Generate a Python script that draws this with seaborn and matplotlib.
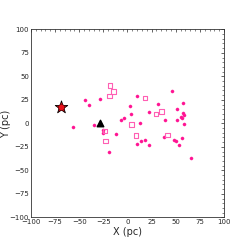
import numpy as np
import pandas as pd
import seaborn as sns
import matplotlib.pyplot as plt
from matplotlib.ticker import MultipleLocator

# small filled members
dot_x = [-43.7, -39.9, -28.8, -56.8, -34.7, -25.8, -25.5, -11.9, -18.8, 9.5, 2.6, 4.0,
         -3.6, -6.7, 12.6, 14.3, 18.5, 10.2, 21.9, 22.3, 32.0, 39.2, 37.5, 46.5, 51.0,
         57.9, 55.1, 56.1, 51.0, 57.2, 58.2, 58.5, 47.8, 50.6, 53.0, 56.1, 65.8]
dot_y = [24.5, 19.1, 25.5, -3.9, -1.4, -7.5, -10.0, -11.0, -30.1, 29.4, 18.8, 9.9,
         6.0, 3.5, 0.7, -18.8, -17.4, -22.0, -22.7, 12.4, 20.9, 3.9, -14.2, 34.0, 15.2,
         21.3, 7.1, 6.0, 3.2, 10.6, 9.2, -1.1, -18.1, -19.1, -23.0, -15.6, -36.9]

# open squares
sq_x = [-18.1, -14.3, -18.8, 4.3, 18.1, 29.5, 35.1, 8.8, 41.3, -23.3, -22.9]
sq_y = [40.4, 34.0, 29.1, -1.4, 26.9, 9.9, 12.8, -12.8, -12.1, -7.8, -18.8]

star_x, star_y = [-69.3], [17.7]
tri_x, tri_y = [-28.2], [0.5]

dots = pd.DataFrame({'x': dot_x, 'y': dot_y})
squares = pd.DataFrame({'x': sq_x, 'y': sq_y})

sns.set_style('white')
plt.rcParams['font.family'] = ['DejaVu Sans']

fig = plt.figure(figsize=(2.49, 2.49), dpi=100)
ax = fig.add_axes([0.1245, 0.127, 0.775, 0.755])

sns.scatterplot(data=dots, x='x', y='y', ax=ax, color='#ff1493', s=5,
                edgecolor='#ff1493', linewidth=0.3, zorder=3)
sns.scatterplot(data=squares, x='x', y='y', ax=ax, marker='s', s=10,
                facecolor='none', edgecolor='#ff5fb4', linewidth=0.8, zorder=3)
ax.scatter(star_x, star_y, marker='*', s=90, color='#e8101a', edgecolor='black',
           linewidth=0.6, zorder=4)
ax.scatter(star_x, star_y, marker='o', s=20, color='#e8101a', edgecolor='#5a0000',
           linewidth=0.4, zorder=5)
ax.scatter(tri_x, tri_y, marker='^', s=22, color='black', zorder=4)

ax.set_xlim(-100, 100)
ax.set_ylim(-100, 100)
ax.xaxis.set_major_locator(MultipleLocator(25))
ax.yaxis.set_major_locator(MultipleLocator(25))
ax.xaxis.set_minor_locator(MultipleLocator(5))
ax.yaxis.set_minor_locator(MultipleLocator(5))
ax.tick_params(which='both', direction='in', top=True, right=True, labelsize=5, pad=1.5)
ax.tick_params(which='major', length=2.5, width=0.5)
ax.tick_params(which='minor', length=1.2, width=0.4)
for s in ax.spines.values():
    s.set_linewidth(0.6)
    s.set_color('#333333')

ax.set_xlabel('X (pc)', fontsize=7, labelpad=1)
ax.set_ylabel('Y (pc)', fontsize=7)
ax.yaxis.set_label_coords(-0.105, 0.5)

plt.savefig('out.png', dpi=100)
